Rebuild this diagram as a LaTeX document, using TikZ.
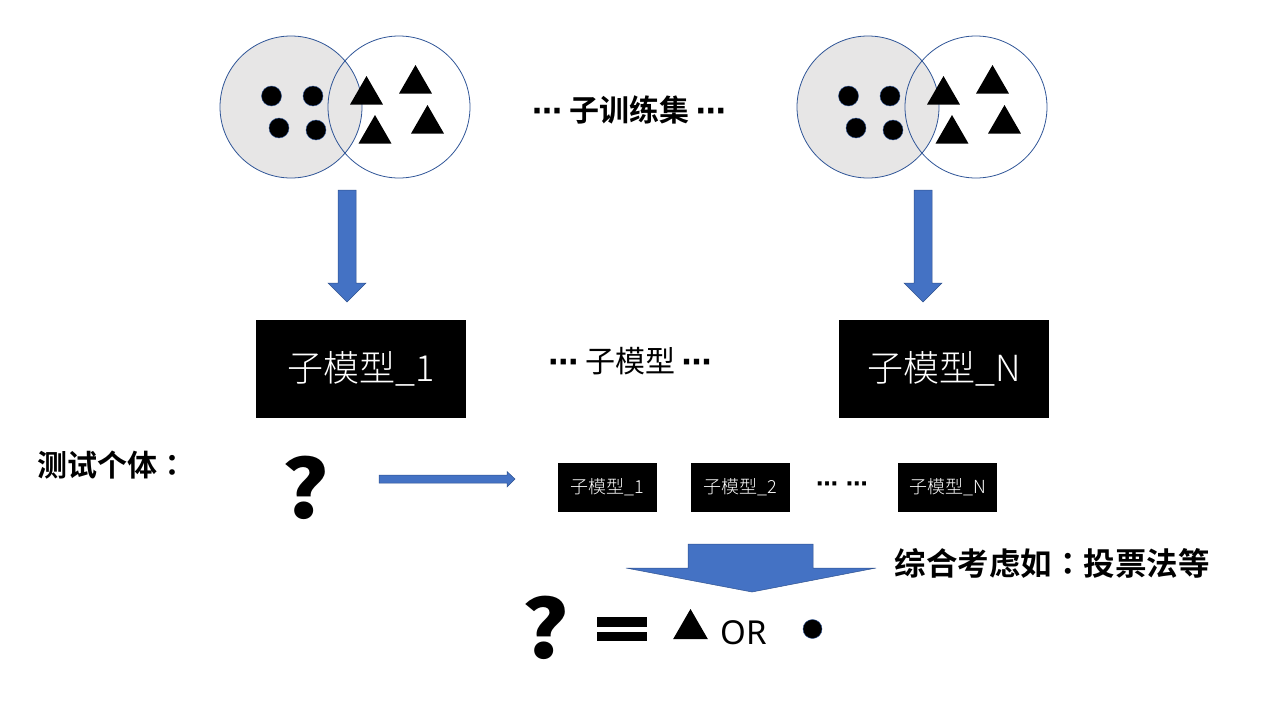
\documentclass[tikz,border=0pt]{standalone}
\usepackage{fontspec}
\newfontfamily\cjk{Noto Sans CJK SC}
\newfontfamily\cjkb{Noto Sans CJK SC Bold}
\newfontfamily\cjkl{Noto Sans CJK SC Light}
\newfontfamily\cjkh{Noto Sans CJK SC Black}
\newfontfamily\cjktcb{Noto Sans CJK TC Bold}
\newfontfamily\latin{Noto Sans}
\newfontfamily\dejavu{DejaVu Sans}
\newfontfamily\dejavub{DejaVu Sans Bold}
\newcommand{\mdots}{{\dejavu ⋯}}
\newcommand{\bdots}{{\dejavub ⋯}}
\newcommand{\bcolon}{{\cjktcb ：}}
\definecolor{arrowblue}{HTML}{4472C4}
\definecolor{arrowedge}{HTML}{2F528F}
\definecolor{ringblue}{HTML}{2F5597}
\definecolor{setgray}{HTML}{E7E6E6}
\tikzset{
  ring/.style={draw=ringblue, line width=0.8pt},
  dot/.style={circle, fill=black, draw=ringblue, line width=0.4pt, minimum size=20pt, inner sep=0pt},
  tri/.style={regular polygon, regular polygon sides=3, fill=black, inner sep=0pt, minimum size=38pt},
  blockarrow/.style={fill=arrowblue, draw=arrowedge, line width=0.5pt},
  bigbox/.style={fill=black, minimum width=210pt, minimum height=98pt, inner sep=0pt, text=white, font=\cjkl\fontsize{36}{40}\selectfont},
  smallbox/.style={fill=black, minimum width=99pt, minimum height=49pt, inner sep=0pt, text=white, font=\cjkl\fontsize{18}{20}\selectfont},
  boldlabel/.style={font=\cjkb\fontsize{30}{32}\selectfont, inner sep=0pt},
  qmark/.style={font=\cjkh\fontsize{80}{82}\selectfont, inner sep=0pt, xscale=1.12}
}
\usetikzlibrary{shapes.geometric}
\begin{document}
\begin{tikzpicture}[x=1pt,y=-1pt]
\useasboundingbox (0,0) rectangle (1280,720);
% Venn diagrams of the sub training sets
\foreach \ox/\nm in {0/L, 577/R}{
  \begin{scope}[xshift=\ox pt]
    \draw[ring, fill=setgray] (291,107) circle (71);
    \draw[ring] (399,107) circle (71);
    \node[dot] (d1\nm) at (271.5,96) {};
    \node[dot] (d2\nm) at (313,96) {};
    \node[dot] (d3\nm) at (279,128) {};
    \node[dot] (d4\nm) at (316,130) {};
    \node[tri] (t1\nm) at (366.5,95) {};
    \node[tri] (t2\nm) at (415.5,84) {};
    \node[tri] (t3\nm) at (375,134) {};
    \node[tri] (t4\nm) at (427.5,124) {};
  \end{scope}
}
\node[boldlabel] (sets) at (629,110) {\bdots{} 子训练集 \bdots};
% down arrows
\foreach \cx in {347, 923}{
  \draw[blockarrow] (\cx-9,190) -- (\cx+9,190) -- (\cx+9,283) -- (\cx+19,283) -- (\cx,302) -- (\cx-19,283) -- (\cx-9,283) -- cycle;
}
% big boxes
\node[bigbox] (m1) at (361,369) {子模型\_1};
\node[bigbox] (mN) at (944,369) {子模型\_N};
\node[font=\cjk\fontsize{30}{32}\selectfont, inner sep=0pt] (mods) at (630,361) {\bdots{} 子模型 \bdots};
% test sample
\node[boldlabel, anchor=west] (test) at (37,465) {测试个体\bcolon};
\node[qmark] (q1) at (306,488) {?};
\draw[blockarrow] (379,475) -- (507,475) -- (507,471.5) -- (515,479) -- (507,487) -- (507,483) -- (379,483) -- cycle;
% small boxes
\node[smallbox] (s1) at (607.5,487.5) {子模型\_1};
\node[smallbox] (s2) at (740.5,487.5) {子模型\_2};
\node[font=\dejavub\fontsize{22}{24}\selectfont, inner sep=0pt] (sdots) at (842,487) {⋯ ⋯};
\node[smallbox] (sN) at (947.5,487.5) {子模型\_N};
% combine arrow
\draw[blockarrow] (688,544) -- (813,544) -- (813,568) -- (876,568) -- (752,592) -- (626,568) -- (688,568) -- cycle;
\node[boldlabel, font=\cjkb\fontsize{31.5}{33}\selectfont] (vote) at (1052,563) {综合考虑如\bcolon 投票法等};
% result
\node[qmark] (q2) at (546,628) {?};
\fill (597,617) rectangle (647,627);
\fill (597,632) rectangle (647,641);
\node[tri, minimum size=40pt] (rt) at (690.5,629) {};
\node[font=\latin\fontsize{33}{34}\selectfont, inner sep=0pt] (or) at (744,633) {OR};
\node[dot, minimum size=19pt] (rd) at (812.5,629) {};
\end{tikzpicture}
\end{document}
